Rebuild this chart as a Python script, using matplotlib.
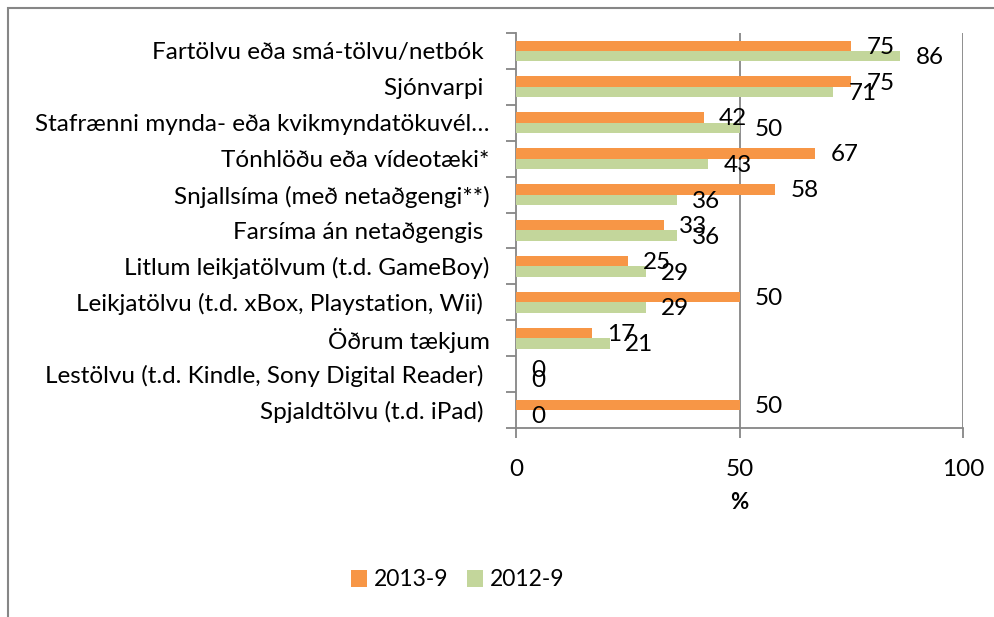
import matplotlib.pyplot as plt
import numpy as np
from matplotlib.patches import Rectangle

plt.rcParams['font.family'] = ['Lato', 'DejaVu Sans']

flokkar = ["Fartölvu eða smá-tölvu/netbók ", "Sjónvarpi ",
           "Stafrænni mynda- eða kvikmyndatökuvél…", "Tónhlöðu eða vídeotæki*",
           "Snjallsíma (með netaðgengi**)", "Farsíma án netaðgengis ",
           "Litlum leikjatölvum (t.d. GameBoy)", "Leikjatölvu (t.d. xBox, Playstation, Wii) ",
           "Öðrum tækjum", "Lestölvu (t.d. Kindle, Sony Digital Reader) ",
           "Spjaldtölvu (t.d. iPad) "]
ar_2013 = [75, 75, 42, 67, 58, 33, 25, 50, 17, 0, 50]
ar_2012 = [86, 71, 50, 43, 36, 36, 29, 29, 21, 0, 0]
xticks = [0, 50, 100]

orange = "#F79646"
green = "#C3D69B"
grey = "#868686"
fs = 17.5

fig = plt.figure(figsize=(9.95, 6.17), dpi=100)
ax = fig.add_axes([516/995, 1-428/617, 447/995, 395/617])

y = np.arange(len(flokkar))
h = 0.29
ax.barh(y - h/2, ar_2013, height=h, color=orange, label="2013-9", zorder=3)
ax.barh(y + h/2, ar_2012, height=h, color=green, label="2012-9", zorder=3)

# gildi við enda hverrar súlu
for i in range(len(flokkar)):
    ax.annotate(str(ar_2013[i]), (ar_2013[i], y[i] - h/2), xytext=(11, -1),
                textcoords="offset points", va="center", ha="left", fontsize=fs)
    ax.annotate(str(ar_2012[i]), (ar_2012[i], y[i] + h/2), xytext=(11, -1),
                textcoords="offset points", va="center", ha="left", fontsize=fs)

ax.set_xlim(0, 100)
ax.set_ylim(len(flokkar) - 0.5, -0.5)
ax.set_xticks(xticks)
ax.set_xticklabels([str(t) for t in xticks], fontsize=fs)
ax.set_yticks(y)
ax.set_yticklabels(flokkar, fontsize=fs)
ax.tick_params(axis="y", length=0, pad=19)
ax.set_yticks(np.arange(len(flokkar) + 1) - 0.5, minor=True)
ax.tick_params(axis="y", which="minor", length=7, color=grey, width=1.3)
ax.tick_params(axis="x", length=7, color=grey, width=1.3, direction="out", pad=15)
ax.set_xlabel("%", fontsize=16, fontweight="bold", labelpad=9)

for x in [50, 100]:
    ax.axvline(x, color=grey, lw=1.3, zorder=1)
for s in ["top", "right"]:
    ax.spines[s].set_visible(False)
for s in ["left", "bottom"]:
    ax.spines[s].set_color(grey)
    ax.spines[s].set_linewidth(1.3)

fig.legend(loc="center", bbox_to_anchor=(458/995, 1-580/617), ncol=2, frameon=False,
           fontsize=16.5, handlelength=0.7, handleheight=0.7, handletextpad=0.3,
           columnspacing=0.8)

fig.patches.append(Rectangle((8/995, -0.1), 1.2, 1-8/617+0.1, transform=fig.transFigure,
                             fill=False, edgecolor=grey, lw=1.5))

plt.savefig("out.png")
